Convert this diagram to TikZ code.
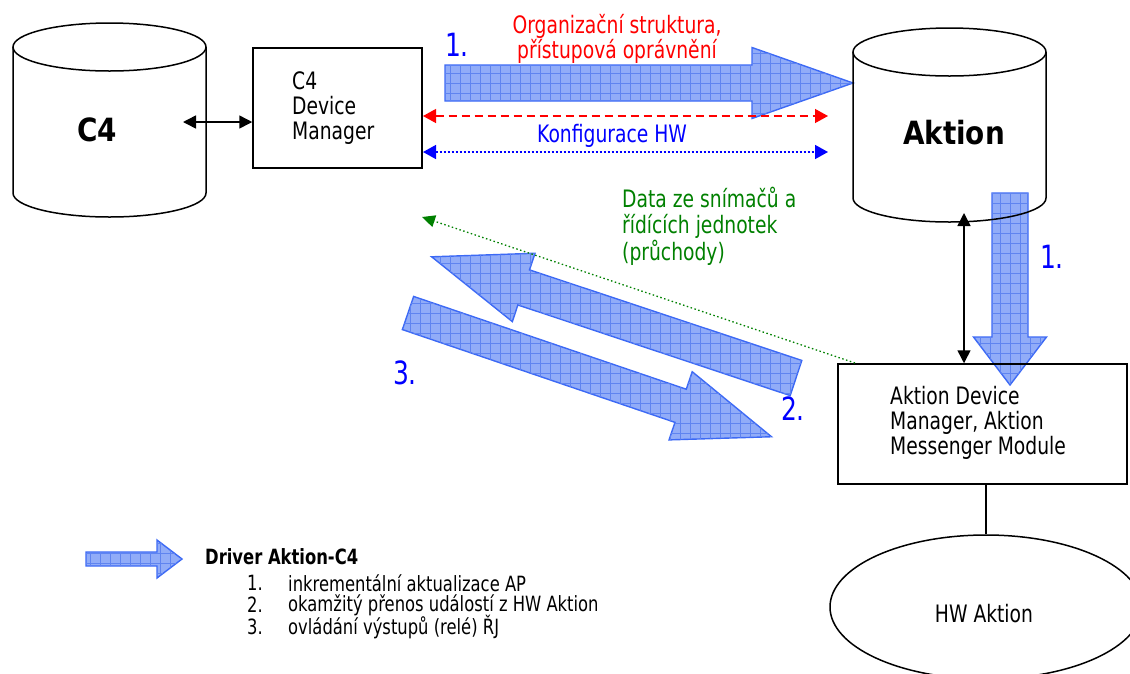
\documentclass[tikz,border=0pt]{standalone}
\usepackage{fontspec}
\setmainfont[FakeStretch=0.78]{DejaVu Sans}
\newfontfamily\widefam[FakeStretch=0.87]{DejaVu Sans}
\usetikzlibrary{arrows.meta,patterns.meta,shapes.geometric}
\definecolor{fatfill}{RGB}{145,172,248}
\definecolor{fatgrid}{RGB}{95,132,240}
\definecolor{fatline}{RGB}{60,105,245}
\definecolor{dgreen}{RGB}{0,128,0}
\definecolor{lblue}{RGB}{0,0,255}
\definecolor{lred}{RGB}{255,0,0}
\tikzset{
  fat/.style={draw=fatline, line width=1.4pt, fill=fatfill, line join=miter,
    postaction={pattern={Lines[angle=0,distance=10pt,line width=0.6pt]}, pattern color=fatgrid},
    postaction={pattern={Lines[angle=90,distance=10pt,line width=0.6pt]}, pattern color=fatgrid}},
  shapeline/.style={draw=black, line width=1.5pt},
  boxnode/.style={draw=black, line width=1.5pt, inner sep=0pt},
  txt/.style={font=\fontsize{24}{25}\selectfont, inner sep=0pt, align=left},
  bigtxt/.style={font=\widefam\fontsize{32}{34}\selectfont\bfseries, inner sep=0pt},
  numtxt/.style={font=\fontsize{32}{34}\selectfont, text=lblue, inner sep=0pt},
  legtxt/.style={font=\fontsize{21}{22}\selectfont, inner sep=0pt, anchor=west},
  blackarr/.style={line width=1.5pt, {Triangle[length=13pt,width=13pt]}-{Triangle[length=13pt,width=13pt]}},
  redarr/.style={draw=lred, line width=1.3pt, dash pattern=on 8pt off 5pt, {Triangle[length=13pt,width=14pt]}-{Triangle[length=13pt,width=14pt]}},
  bluearr/.style={draw=lblue, line width=1.5pt, dash pattern=on 2pt off 2pt, {Triangle[length=13pt,width=14pt]}-{Triangle[length=13pt,width=14pt]}},
  greenarr/.style={draw=dgreen, line width=1.3pt, dash pattern=on 1.5pt off 2.5pt, -{Triangle[length=13pt,width=12pt]}}
}
% tail x, tail y, angle, length, shaft width, head width, head length
\newcommand{\fatarrow}[7]{%
  \path[fat, shift={(#1,#2)}, rotate=#3]
    (0,{-#5/2}) -- ({#4-#7},{-#5/2}) -- ({#4-#7},{-#6/2}) -- (#4,0)
    -- ({#4-#7},{#6/2}) -- ({#4-#7},{#5/2}) -- (0,{#5/2}) -- cycle;}
% centre x, top centre y, bottom centre y, rx, ry
\newcommand{\cylinderdraw}[5]{%
  \draw[shapeline] ({#1-#4},#2) -- ({#1-#4},#3)
    arc[start angle=180, end angle=0, x radius=#4, y radius=#5] -- ({#1+#4},#2);
  \draw[shapeline] (#1,#2) ellipse[x radius=#4, y radius=#5];}
\begin{document}
\begin{tikzpicture}[x=1pt,y=-1pt]
\useasboundingbox (0,0) rectangle (1130,673);
\clip (0,0) rectangle (1130,673);
% fat arrows
\fatarrow{445}{83}{0}{408}{36}{71}{101}
\fatarrow{1010}{193}{-90}{192}{36}{73}{48}
\fatarrow{796}{378}{161.6}{384}{37}{72}{97}
\fatarrow{408}{313}{-18.8}{384}{35}{72}{96}
\fatarrow{86}{559}{0}{96}{14}{38}{25}
% cylinders
\cylinderdraw{109.5}{47}{193}{96.5}{24}
\cylinderdraw{949.5}{52}{198}{96.5}{24}
\node[bigtxt] (c4) at (97,130) {C4};
\node[bigtxt] (aktion) at (954,133) {Aktion};
% boxes
\node[boxnode, minimum width=169pt, minimum height=120pt] (c4dm) at (337.5,108) {};
\node[txt, anchor=west] (c4dmt) at (292,108) {C4\\Device\\Manager};
\node[boxnode, minimum width=289pt, minimum height=120pt] (adm) at (982.5,424) {};
\node[txt, anchor=west] (admt) at (890,423) {Aktion Device\\Manager, Aktion\\Messenger Module};
\node[boxnode, shape=ellipse, minimum width=312pt, minimum height=144pt] (hw) at (986,607) {};
\node[txt] (hwt) at (984,614) {HW Aktion};
% connectors
\coordinate (c4r) at (183,122);
\draw[blackarr] (c4r) -- (c4r -| c4dm.west);
\coordinate (akb) at (964,213);
\draw[blackarr] (akb) -- (akb |- adm.north);
\draw[shapeline] (hw.north) -- (hw.north |- adm.south);
\coordinate (rs) at (423,116);
\coordinate (re) at (828,116);
\draw[redarr] (rs) -- (re);
\coordinate (bs) at (423,152);
\coordinate (be) at (828,152);
\draw[bluearr] (bs) -- (be);
\coordinate (gs) at (855,363);
\coordinate (ge) at (422,217);
\draw[greenarr] (gs) -- (ge);
% labels
\node[txt, text=lred, align=center, font=\fontsize{24}{23}\selectfont] (org) at (617,38.5) {Organizační struktura,\\přístupová oprávnění};
\node[txt, text=lblue] (konf) at (612,136) {Konfigurace HW};
\node[txt, text=dgreen, anchor=west, font=\fontsize{24}{26.5}\selectfont] (data) at (622,226) {Data ze snímačů a\\řídících jednotek\\(průchody)};
\node[numtxt] (n1a) at (457,45) {1.};
\node[numtxt] (n1b) at (1052,257) {1.};
\node[numtxt] (n2) at (793,409) {2.};
\node[numtxt] (n3) at (405,373) {3.};
% legend
\node[legtxt, font=\fontsize{21}{22}\selectfont\bfseries] (leg) at (205,557) {Driver Aktion-C4};
\node[legtxt] (l1n) at (247,583) {1.};
\node[legtxt] (l1) at (288,583) {inkrementální aktualizace AP};
\node[legtxt] (l2n) at (247,605) {2.};
\node[legtxt] (l2) at (288,605) {okamžitý přenos událostí z HW Aktion};
\node[legtxt] (l3n) at (247,627) {3.};
\node[legtxt] (l3) at (288,627) {ovládání výstupů (relé) ŘJ};
\end{tikzpicture}
\end{document}
